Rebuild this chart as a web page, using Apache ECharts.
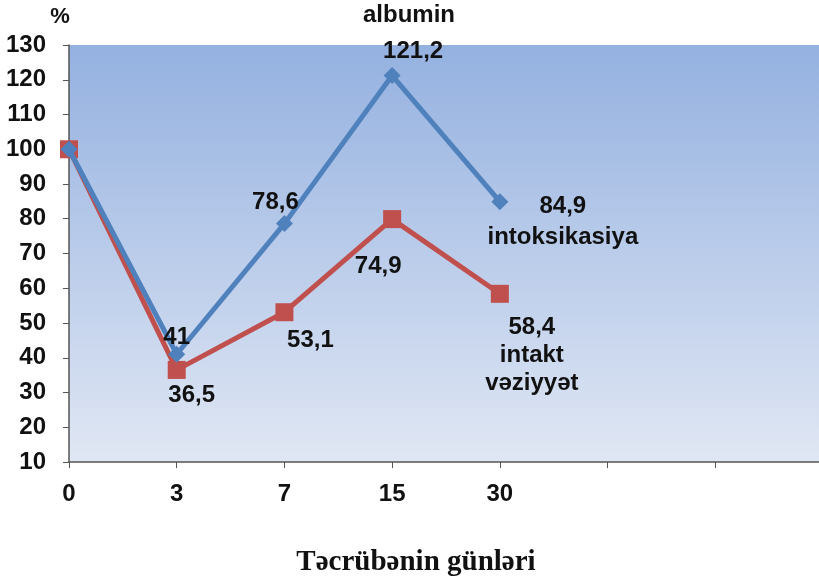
<!DOCTYPE html>
<html><head><meta charset="utf-8">
<script src="https://cdn.jsdelivr.net/npm/echarts@6/dist/echarts.min.js"></script>
<style>html,body{margin:0;padding:0;background:#fff}#c{width:819px;height:580px}</style>
</head><body><div id="c"></div>
<script>
const categories = ['0','3','7','15','30','','',''];
const intoxValues = [100, 41, 78.6, 121.2, 84.9];
const intoxLabels = ['', '41', '78,6', '121,2', '84,9\nintoksikasiya'];
const intactValues = [100, 36.5, 53.1, 79.9, 58.4];
const intactLabels = ['', '36,5', '53,1', '74,9', '58,4\nintakt\nvəziyyət'];
const intoxOffsets = [[0,0],[0,-17],[-9,-21],[21,-24],[63,20]];
const intactOffsets = [[0,0],[15,25],[26,28],[-14,47],[32,62]];

const FONT = "'Liberation Sans', Arial, sans-serif";
function mk(values, labels, offs) {
  return values.map((v,i)=>({
    value: v,
    label: {show: labels[i] !== '', formatter: labels[i], offset: offs[i]}
  }));
}
const chart = echarts.init(document.getElementById('c'));
chart.setOption({
  animation: false,
  title: [
    {text: 'albumin', left: 404, top: -2, textAlign: 'center',
     textStyle: {fontFamily: FONT, fontWeight: 'bold', fontSize: 24, color: '#111'}},
    {text: 'Təcrübənin günləri', left: 411, top: 543, textAlign: 'center',
     textStyle: {fontFamily: "'Liberation Serif', 'Times New Roman', serif", fontWeight: 'bold', fontSize: 29, color: '#111'}}
  ],
  grid: {left: 69, top: 45, width: 754, height: 417, show: true, borderWidth: 0,
    outerBoundsMode: 'none', containLabel: false,
    backgroundColor: new echarts.graphic.LinearGradient(0,0,0,1,[
      {offset: 0, color: '#94b1e0'}, {offset: 1, color: '#e0e7f4'}])},
  xAxis: {
    type: 'category', data: categories, boundaryGap: false,
    axisLine: {lineStyle: {color: '#555', width: 1.5}},
    axisTick: {show: true, length: 6, lineStyle: {color: '#555'}},
    axisLabel: {margin: 20, fontFamily: FONT, fontWeight: 'bold', fontSize: 24, color: '#111', interval: 0},
    splitLine: {show: false}
  },
  yAxis: {
    type: 'value', min: 10, max: 130, interval: 10,
    name: '%', nameLocation: 'end', nameGap: 17,
    nameTextStyle: {fontFamily: FONT, fontWeight: 'bold', fontSize: 22, color: '#111', align: 'center', padding: [0,0,0,-18]},
    axisLine: {show: true, lineStyle: {color: '#555', width: 1.5}},
    axisTick: {show: true, length: 6, lineStyle: {color: '#555'}},
    axisLabel: {margin: 23, fontFamily: FONT, fontWeight: 'bold', fontSize: 24, color: '#111'},
    splitLine: {show: false}
  },
  series: [
    {name: 'intoksikasiya', type: 'line', data: mk(intoxValues, intoxLabels, intoxOffsets),
     symbol: 'diamond', symbolSize: 17, z: 3,
     lineStyle: {color: '#4f81bd', width: 5}, itemStyle: {color: '#4f81bd'},
     label: {position: 'inside', align: 'center', verticalAlign: 'middle', lineHeight: 31,
       fontFamily: FONT, fontWeight: 'bold', fontSize: 24, color: '#111'}},
    {name: 'intakt', type: 'line', data: mk(intactValues, intactLabels, intactOffsets),
     symbol: 'rect', symbolSize: 18, z: 2,
     lineStyle: {color: '#c0504d', width: 5}, itemStyle: {color: '#c0504d'},
     label: {position: 'inside', align: 'center', verticalAlign: 'middle', lineHeight: 28,
       fontFamily: FONT, fontWeight: 'bold', fontSize: 24, color: '#111'}}
  ]
});
</script></body></html>
